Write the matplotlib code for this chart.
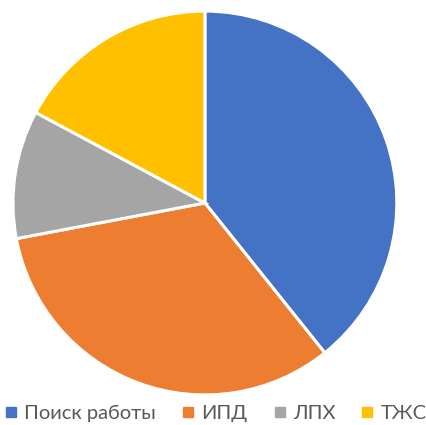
import matplotlib
matplotlib.use("Agg")
import matplotlib.pyplot as plt
from matplotlib.lines import Line2D

labels = ["Поиск работы", "ИПД", "ЛПХ", "ТЖС"]
values = [39.3, 32.8, 10.8, 17.2]
colors = ["#4472C4", "#ED7D31", "#A5A5A5", "#FFC000"]

plt.rcParams['font.family'] = ['Lato', 'DejaVu Sans']

fig = plt.figure(figsize=(4.26, 4.25), dpi=100)
ax = fig.add_axes([0.0305, 0.0706, 0.901, 0.9035])
ax.pie(values, colors=colors, startangle=90, counterclock=False, radius=1,
       wedgeprops=dict(edgecolor="white", linewidth=2.2))
ax.set_xlim(-1, 1)
ax.set_ylim(-1, 1)
ax.set_aspect('equal')
ax.axis('off')

handles = [Line2D([0], [0], marker='s', linestyle='none', markersize=7,
                  markerfacecolor=c, markeredgecolor=c) for c in colors]
fig.legend(handles, labels, loc='lower center', bbox_to_anchor=(0.508, -0.036),
           ncol=4, frameon=False, fontsize=14.5, handlelength=0.5,
           handletextpad=0.4, columnspacing=1.35, labelcolor="#595959")

fig.savefig("out.png", dpi=100)
